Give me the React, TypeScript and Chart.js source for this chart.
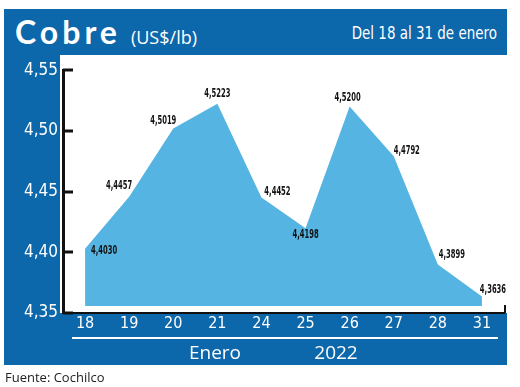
import React, { useEffect, useRef } from "react";
import { Chart, registerables } from "chart.js";

Chart.register(...registerables);

const categories = ["18", "19", "20", "21", "24", "25", "26", "27", "28", "31"];
const prices = [4.403, 4.4457, 4.5019, 4.5223, 4.4452, 4.4198, 4.52, 4.4792, 4.3899, 4.3636];
const priceLabels = ["4,4030", "4,4457", "4,5019", "4,5223", "4,4452", "4,4198", "4,5200", "4,4792", "4,3899", "4,3636"];
const yMin = 4.35;
const yMax = 4.55;
const yStep = 0.05;

// label placement relative to each point (style only)
const labelDx = [19, -10, -10, 0, 16, 0, -2, 13, 14, 11];
const labelDy = [2, -11, -8, -10, -6, 6, -9, -6, -10, -7];

const BLUE = "#0d67ab";
const FILL = "#55b4e2";
const NARROW = "'DejaVu Sans Condensed', 'Open Sans', sans-serif";

const panelPlugin = {
  id: "panelBg",
  beforeDraw(chart: any) {
    const { ctx, chartArea } = chart;
    ctx.save();
    ctx.fillStyle = "#ffffff";
    ctx.fillRect(chartArea.left - 3, 0, chart.width - (chartArea.left - 3), chartArea.bottom);
    ctx.restore();
  },
  afterDraw(chart: any) {
    const { ctx, chartArea, scales } = chart;
    const y = scales.y;
    ctx.save();
    // y ticks pointing into the plot
    ctx.strokeStyle = "#111";
    ctx.lineWidth = 3;
    for (let v = yMin; v <= yMax + 1e-9; v += yStep) {
      const py = Math.round(y.getPixelForValue(v));
      ctx.beginPath();
      ctx.moveTo(chartArea.left, py);
      ctx.lineTo(chartArea.left + 10, py);
      ctx.stroke();
    }
    // right end tick of x axis
    ctx.lineWidth = 2;
    ctx.beginPath();
    ctx.moveTo(chartArea.right + 1, chartArea.bottom);
    ctx.lineTo(chartArea.right + 1, chartArea.bottom - 8);
    ctx.stroke();
    // data labels
    const meta = chart.getDatasetMeta(0);
    ctx.fillStyle = "#111";
    ctx.font = `bold 13px ${NARROW}`;
    ctx.textAlign = "center";
    ctx.textBaseline = "middle";
    meta.data.forEach((pt: any, i: number) => {
      ctx.save();
      ctx.translate(pt.x + labelDx[i], pt.y + labelDy[i]);
      ctx.scale(0.58, 1);
      ctx.fillText(priceLabels[i], 0, 0);
      ctx.restore();
    });
    ctx.restore();
  },
};

function CobreChart() {
  const ref = useRef<HTMLCanvasElement>(null);
  useEffect(() => {
    if (!ref.current) return;
    const chart = new Chart(ref.current, {
      type: "line",
      data: {
        labels: categories,
        datasets: [
          {
            data: prices,
            backgroundColor: FILL,
            borderWidth: 0,
            pointRadius: 0,
            tension: 0,
            fill: { value: 4.3557 } as any,
          },
        ],
      },
      options: {
        animation: false,
        responsive: false,
        maintainAspectRatio: false,
        layout: { padding: { top: 14, right: 3, left: 0, bottom: 0 } },
        plugins: { legend: { display: false }, tooltip: { enabled: false } },
        scales: {
          x: {
            offset: true,
            grid: { display: false, drawTicks: false },
            border: { display: true, color: "#111", width: 2 },
            ticks: {
              color: "#ffffff",
              font: { family: NARROW, size: 16 },
              padding: 1,
              maxRotation: 0,
            },
            afterFit(scale: any) {
              scale.height = 52;
            },
          },
          y: {
            min: yMin,
            max: yMax,
            grid: { display: false, drawTicks: false },
            border: { display: true, color: "#111", width: 3 },
            ticks: {
              stepSize: yStep,
              color: "#ffffff",
              font: { family: NARROW, size: 17 },
              padding: 5,
              callback: (v: any) => Number(v).toFixed(2).replace(".", ","),
            },
            afterFit(scale: any) {
              scale.width = 59;
            },
          },
        },
      },
      plugins: [panelPlugin],
    });
    return () => chart.destroy();
  }, []);
  return <canvas ref={ref} width={503} height={310} style={{ position: "absolute", left: 0, top: 46, width: 503, height: 310 }} />;
}

export default function App() {
  return (
    <div style={{ position: "fixed", left: 0, top: 0, width: 520, height: 387, background: "#fff", overflow: "hidden" }}>
      <div style={{ position: "absolute", left: 4, top: 9, width: 503, height: 356, background: BLUE }}>
        <div
          style={{
            position: "absolute",
            left: 11,
            top: 0,
            height: 46,
            lineHeight: "46px",
            color: "#fff",
            whiteSpace: "nowrap",
          }}
        >
          <span style={{ fontFamily: "Lato, sans-serif", fontWeight: 700, fontSize: 32, letterSpacing: 4 }}>Cobre</span>
          <span style={{ fontFamily: "'Open Sans', sans-serif", fontSize: 18, marginLeft: 10 }}>(US$/lb)</span>
        </div>
        <div
          style={{
            position: "absolute",
            right: 10,
            top: 0,
            height: 46,
            lineHeight: "48px",
            color: "#fff",
            fontFamily: NARROW,
            fontSize: 18,
            whiteSpace: "nowrap",
            transform: "scaleX(0.83)",
            transformOrigin: "right center",
          }}
        >
          Del 18 al 31 de enero
        </div>
        <CobreChart />
        <div style={{ position: "absolute", left: 68, top: 328, width: 426, height: 2, background: "#fff" }} />
        <div
          style={{
            position: "absolute",
            left: 0,
            top: 331,
            width: 503,
            height: 24,
            color: "#fff",
            fontFamily: "'Open Sans', sans-serif",
            fontSize: 19,
            lineHeight: "24px",
          }}
        >
          <span style={{ position: "absolute", left: 211, transform: "translateX(-50%)" }}>Enero</span>
          <span style={{ position: "absolute", left: 332, transform: "translateX(-50%)" }}>2022</span>
        </div>
      </div>
      <div
        style={{
          position: "absolute",
          left: 5,
          top: 368,
          fontFamily: "'Open Sans', sans-serif",
          fontSize: 13,
          color: "#222",
          whiteSpace: "nowrap",
        }}
      >
        Fuente: Cochilco
      </div>
    </div>
  );
}
